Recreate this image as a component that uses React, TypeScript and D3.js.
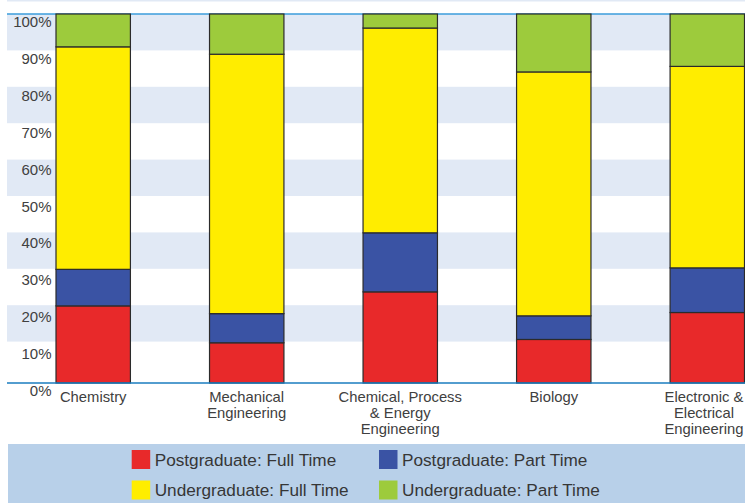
import React, { useEffect } from "react";
import * as d3 from "d3";

const categories = ["Chemistry", "Mechanical Engineering", "Chemical, Process & Energy Engineering", "Biology", "Electronic & Electrical Engineering"];
const categoryLines = [
  ["Chemistry"],
  ["Mechanical", "Engineering"],
  ["Chemical, Process", "& Energy", "Engineering"],
  ["Biology"],
  ["Electronic &", "Electrical", "Engineering"],
];
const seriesNames = ["Postgraduate: Full Time", "Postgraduate: Part Time", "Undergraduate: Full Time", "Undergraduate: Part Time"];
const pgFullTime = [20.9, 10.9, 24.7, 11.8, 19.1];
const pgPartTime = [9.9, 7.9, 16.0, 6.4, 12.1];
const ugFullTime = [60.3, 70.3, 55.5, 66.1, 54.6];
const ugPartTime = [8.9, 10.9, 3.8, 15.7, 14.2];
const seriesColors = ["#e8292a", "#3a53a4", "#ffed00", "#9dcb3c"];
const yTicks = [0, 10, 20, 30, 40, 50, 60, 70, 80, 90, 100];

const W = 745;
const H = 503;
const FONT = "'Liberation Sans', Arial, Helvetica, sans-serif";

export default function App() {
  useEffect(() => {
    document.body.style.margin = "0";
  }, []);

  const left = 7;
  const top = 14;
  const base = 383;

  const x = d3.scaleBand<string>().domain(categories).range([56, 744.5]).paddingInner(0.5153).paddingOuter(0);
  const y = d3.scaleLinear().domain([0, 100]).range([base, top]);
  const yGrid = d3.scaleLinear().domain([0, 100]).range([378, top]);

  const rows = categories.map((c, i) => ({
    cat: c,
    s0: pgFullTime[i],
    s1: pgPartTime[i],
    s2: ugFullTime[i],
    s3: ugPartTime[i],
  }));
  const stacked = d3.stack<any>().keys(["s0", "s1", "s2", "s3"])(rows);

  const bandStarts = yTicks.filter((v) => v % 20 === 10);

  const legendItems = seriesNames.map((n, i) => ({
    name: n,
    color: seriesColors[i],
    col: i % 2,
    row: Math.floor(i / 2),
  }));

  return (
    <svg width={W} height={H} style={{ display: "block" }}>
      <rect x={0} y={0} width={W} height={H} fill="#ffffff" />
      <rect x={left} y={0} width={W - left} height={1.5} fill="#e1e9f5" />
      {bandStarts.map((v) => (
        <rect key={v} x={left} y={yGrid(v + 10)} width={W - left} height={yGrid(v) - yGrid(v + 10)} fill="#e1e9f5" />
      ))}
      <line x1={left} x2={W} y1={top} y2={top} stroke="#3b9ddb" strokeWidth={1.5} />
      {stacked.map((layer, li) => (
        <g key={li}>
          {layer.map((d, i) => (
            <rect
              key={i}
              x={x(categories[i])}
              y={y(d[1])}
              width={x.bandwidth()}
              height={y(d[0]) - y(d[1])}
              fill={seriesColors[li]}
              stroke="#2b2b2b"
              strokeWidth={1.2}
            />
          ))}
        </g>
      ))}
      <line x1={left} x2={W} y1={base} y2={base} stroke="#1a7dbf" strokeWidth={1.5} />
      {yTicks.map((v) => (
        <text key={v} x={51.5} y={y(v) + 13} textAnchor="end" fontFamily={FONT} fontSize={15} fill="#404040">
          {v}%
        </text>
      ))}
      {categories.map((c, i) => {
        const cx = Math.min((x(c) as number) + x.bandwidth() / 2, W - 41);
        return (
          <text key={c} textAnchor="middle" fontFamily={FONT} fontSize={14.8} fill="#404040">
            {categoryLines[i].map((ln, j) => (
              <tspan key={j} x={cx} y={base + 19 + j * 16}>
                {ln}
              </tspan>
            ))}
          </text>
        );
      })}
      <rect x={8} y={444} width={W - 8} height={H - 444} fill="#b8d0e9" />
      {legendItems.map((it) => {
        const lx = 131.7 + it.col * 247.3;
        const ly = 450 + it.row * 30.5;
        return (
          <g key={it.name}>
            <rect x={lx} y={ly} width={18.5} height={19} fill={it.color} />
            <text x={lx + 23} y={ly + 15.5} fontFamily={FONT} fontSize={17.2} fill="#363636">
              {it.name}
            </text>
          </g>
        );
      })}
    </svg>
  );
}
